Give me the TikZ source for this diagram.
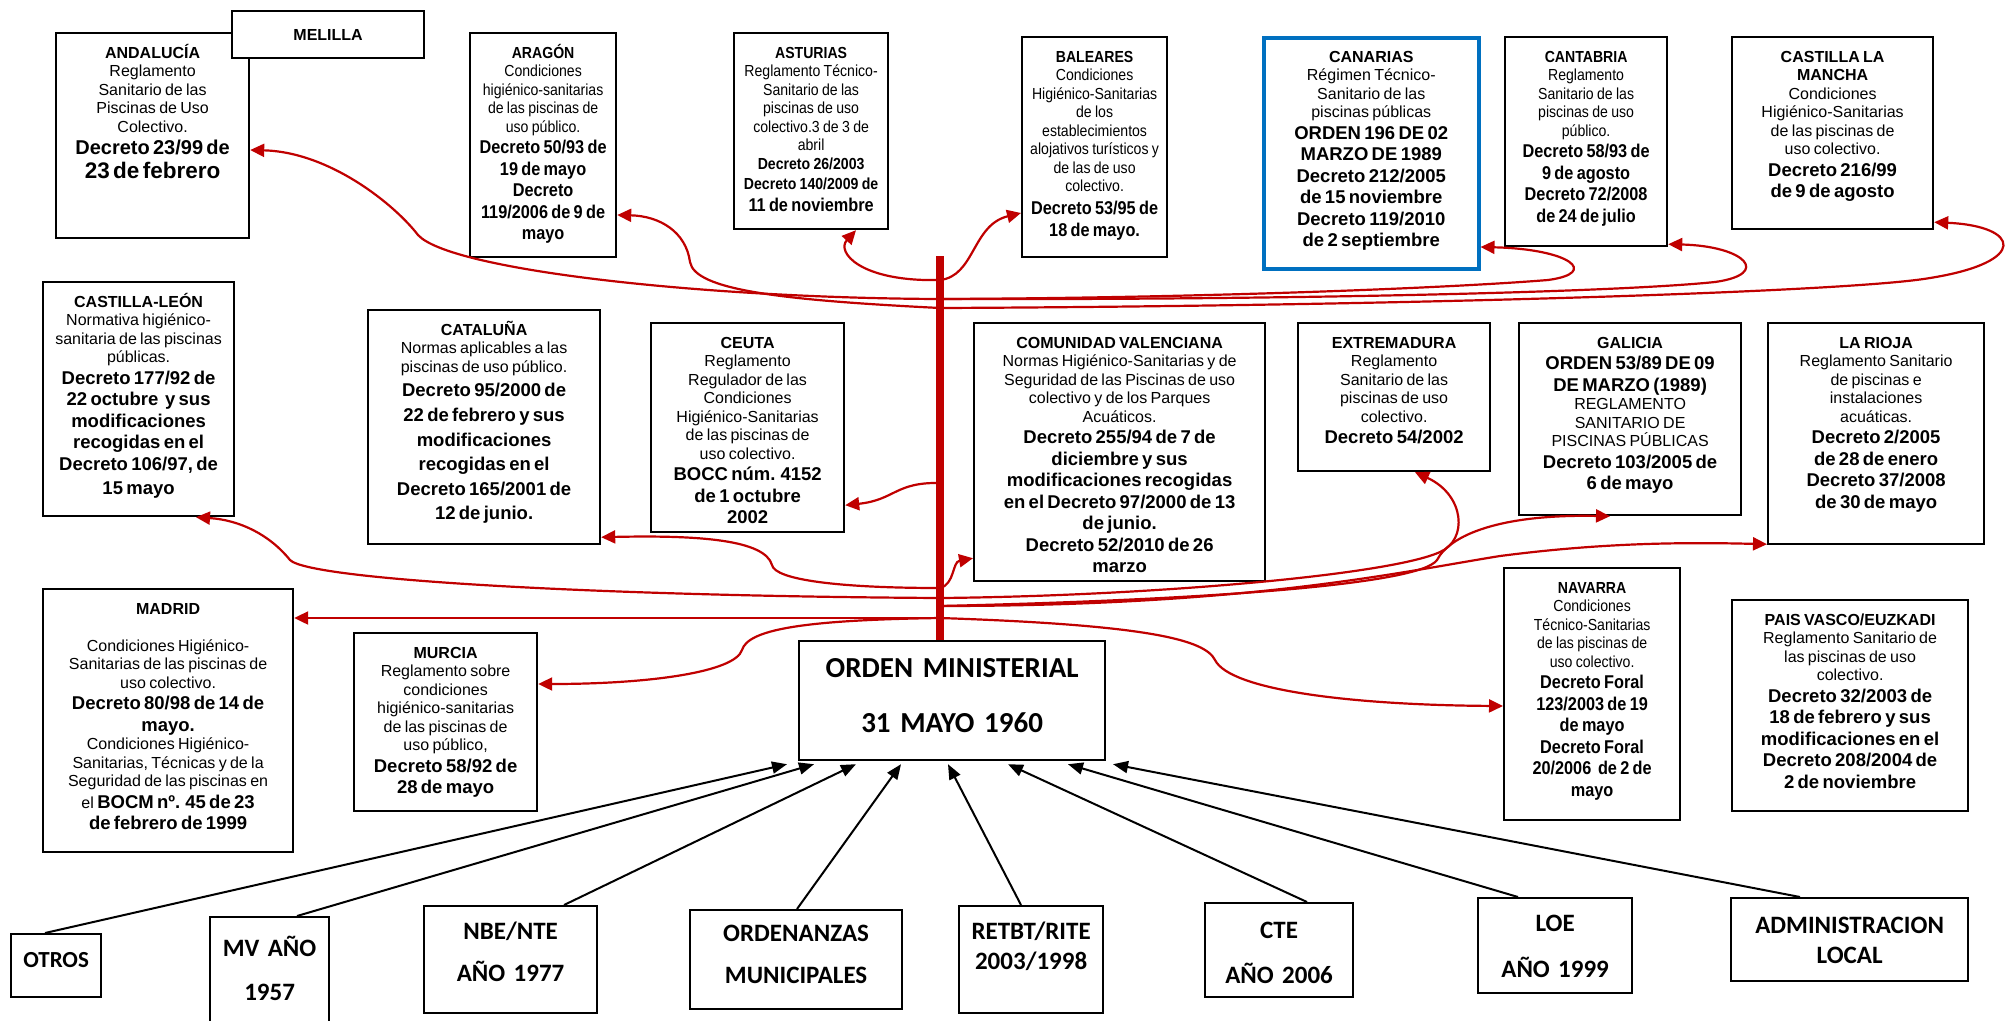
\documentclass[tikz,border=0pt]{standalone}
\usepackage{fontspec}
\setmainfont{Liberation Sans}
\newfontfamily\nrw[FakeStretch=0.88]{Liberation Sans}
\newfontfamily\calib{Carlito}
\usetikzlibrary{arrows.meta,calc}
\definecolor{conred}{HTML}{C00000}
\definecolor{canblue}{HTML}{0070C0}

% text styles used inside the boxes
\newcommand\ttlf{\fontsize{16}{18.5}\selectfont\bfseries}
\newcommand\ttl{\ttlf\rule{0pt}{15pt}}
\newcommand\rgl{\fontsize{16}{18.5}\selectfont\mdseries}
\newcommand\bld{\fontsize{18.5}{21.5}\selectfont\bfseries}
\newcommand\btm{\calib\bfseries\fontsize{25}{30}\selectfont}

\tikzset{
  box/.style={draw, line width=2.2pt, fill=white, inner sep=0pt, anchor=north west, rectangle},
  boxtext/.style={anchor=north, align=center, inner sep=0pt},
  con/.style={draw=conred, line width=2.2pt, -{Triangle[length=14pt,width=13pt]}},
  feed/.style={draw=black, line width=2pt, -{Triangle[length=15pt,width=12pt]}},
  mainbar/.style={draw=conred, line width=8pt},
}

% region box: [extra style]{name}{x,y}{width}{height}{text}
\newcommand\regbox[6][]{%
  \node[box,#1,minimum width=#4,minimum height=#5] (#2) at (#3) {};
  \node[boxtext,text width=#4] at ($(#2.north)+(0,11)$) {#6};}
% lower box: {name}{x,y}{width}{height}{top pad}{text}
\newcommand\basebox[6]{%
  \node[box,minimum width=#3,minimum height=#4] (#1) at (#2) {};
  \node[boxtext,text width=#3,font=\btm] at ($(#1.north)+(0,#5)$) {\rule{0pt}{22pt}#6};}

\begin{document}
\begin{tikzpicture}[x=1pt,y=-1pt]
\useasboundingbox (0,0) rectangle (2009,1020);
\fill[white] (0,0) rectangle (2009,1020);

% ---------- top row ----------
\regbox{anda}{55,32}{193}{205}{{\ttl ANDALUCÍA\par}{\rgl Reglamento\\Sanitario de las\\Piscinas de Uso\\Colectivo.\par}{\fontsize{20}{22}\selectfont\bfseries Decreto 23/99 de\par}{\fontsize{22.5}{24}\selectfont\bfseries 23 de febrero\par}}
\node[box,minimum width=192,minimum height=47,font=\ttlf] (mel) at (231,10) {MELILLA};
\regbox{ara}{469,32}{146}{224}{\nrw{\ttl ARAGÓN\par}{\rgl Condiciones\\higiénico-sanitarias\\de las piscinas de\\uso público.\par}{\bld Decreto 50/93 de\\19 de mayo\\Decreto\\119/2006 de 9 de\\mayo\par}}
\regbox{ast}{733,32}{154}{196}{\nrw{\ttl ASTURIAS\par}{\rgl Reglamento Técnico-\\Sanitario de las\\piscinas de uso\\colectivo.3 de 3 de\\abril\par}{\fontsize{16}{19}\selectfont\bfseries Decreto 26/2003\par}{\fontsize{16}{20}\selectfont\bfseries Decreto 140/2009 de\par}{\bld 11 de noviembre\par}}
\regbox{bal}{1021,36}{145}{220}{\nrw{\ttl BALEARES\par}{\rgl Condiciones\\Higiénico-Sanitarias\\de los\\establecimientos\\alojativos turísticos y\\de las de uso\\colectivo.\par}{\fontsize{18.5}{22.5}\selectfont\bfseries Decreto 53/95 de\\18 de mayo.\par}}
\regbox[draw=canblue,line width=3.5pt]{can}{1262,36}{215}{231}{{\ttl CANARIAS\par}{\rgl Régimen Técnico-\\Sanitario de las\\piscinas públicas\par}{\bld ORDEN 196 DE 02\\MARZO DE 1989\\Decreto 212/2005\\de 15 noviembre\\Decreto 119/2010\\de 2 septiembre\par}}
\regbox{cnt}{1504,36}{162}{209}{\nrw{\ttl CANTABRIA\par}{\rgl Reglamento\\Sanitario de las\\piscinas de uso\\público.\par}{\bld Decreto 58/93 de\\9 de agosto\\Decreto 72/2008\\de 24 de julio\par}}
\regbox{clm}{1731,36}{201}{192}{{\ttl CASTILLA LA\\MANCHA\par}{\rgl Condiciones\\Higiénico-Sanitarias\\de las piscinas de\\uso colectivo.\par}{\bld Decreto 216/99\\de 9 de agosto\par}}

% ---------- middle row ----------
\regbox{cyl}{42,281}{191}{234}{{\ttl CASTILLA-LEÓN\par}{\rgl Normativa higiénico-\\sanitaria de las piscinas\\públicas.\par}{\bld Decreto 177/92 de\\22 octubre\ \ y sus\\modificaciones\\recogidas en el\\Decreto 106/97, de\\[3pt]15 mayo\par}}
\regbox{cat}{367,309}{232}{234}{{\ttl CATALUÑA\par}{\rgl Normas aplicables a las\\piscinas de uso público.\par}{\fontsize{18.5}{24.6}\selectfont\bfseries Decreto 95/2000 de\\22 de febrero y sus\\modificaciones\\recogidas en el\\Decreto 165/2001 de\\12 de junio.\par}}
\regbox{ceu}{650,322}{193}{209}{{\ttl CEUTA\par}{\rgl Reglamento\\Regulador de las\\Condiciones\\Higiénico-Sanitarias\\de las piscinas de\\uso colectivo.\par}{\bld BOCC núm. 4152\\de 1 octubre\\2002\par}}
\regbox{val}{973,322}{291}{258}{{\ttl COMUNIDAD VALENCIANA\par}{\rgl Normas Higiénico-Sanitarias y de\\Seguridad de las Piscinas de uso\\colectivo y de los Parques\\Acuáticos.\par}{\bld Decreto 255/94 de 7 de\\diciembre y sus\\modificaciones recogidas\\en el Decreto 97/2000 de 13\\de junio.\\Decreto 52/2010 de 26\\marzo\par}}
\regbox{ext}{1297,322}{192}{148}{{\ttl EXTREMADURA\par}{\rgl Reglamento\\Sanitario de las\\piscinas de uso\\colectivo.\par}{\bld Decreto 54/2002\par}}
\regbox{gal}{1518,322}{222}{192}{{\ttl GALICIA\par}{\bld ORDEN 53/89 DE 09\\DE MARZO (1989)\par}{\rgl REGLAMENTO\\SANITARIO DE\\PISCINAS PÚBLICAS\par}{\bld Decreto 103/2005 de\\6 de mayo\par}}
\regbox{rio}{1767,322}{216}{221}{{\ttl LA RIOJA\par}{\rgl Reglamento Sanitario\\de piscinas e\\instalaciones\\acuáticas.\par}{\bld Decreto 2/2005\\de 28 de enero\\Decreto 37/2008\\de 30 de mayo\par}}

% ---------- lower row ----------
\regbox{mad}{42,588}{250}{263}{{\ttl MADRID\par}{\rgl\mbox{}\\Condiciones Higiénico-\\Sanitarias de las piscinas de\\uso colectivo.\par}{\bld Decreto 80/98 de 14 de\\mayo.\par}{\rgl Condiciones Higiénico-\\Sanitarias, Técnicas y de la\\Seguridad de las piscinas en\par}{\bld {\rgl el }BOCM nº. 45 de 23\\de febrero de 1999\par}}
\regbox{mur}{353,632}{183}{178}{{\ttl MURCIA\par}{\rgl Reglamento sobre\\condiciones\\higiénico-sanitarias\\de las piscinas de\\uso público,\par}{\bld Decreto 58/92 de\\28 de mayo\par}}
\regbox{nav}{1503,567}{176}{252}{\nrw{\ttl NAVARRA\par}{\rgl Condiciones\\Técnico-Sanitarias\\de las piscinas de\\uso colectivo.\par}{\bld Decreto Foral\\123/2003 de 19\\de mayo\\Decreto Foral\\20/2006\ \ de 2 de\\mayo\par}}
\regbox{pv}{1731,599}{236}{211}{{\ttl PAIS VASCO/EUZKADI\par}{\rgl Reglamento Sanitario de\\las piscinas de uso\\colectivo.\par}{\bld Decreto 32/2003 de\\18 de febrero y sus\\modificaciones en el\\Decreto 208/2004 de\\2 de noviembre\par}}

% central order
\node[box,minimum width=306,minimum height=119] (orden) at (798,640) {};
\node[boxtext,text width=306,font=\calib\bfseries\fontsize{29}{35}\selectfont] at ($(orden.north)+(0,15)$) {\rule{0pt}{22pt}ORDEN MINISTERIAL\\[20pt]31 MAYO 1960};

% ---------- bottom row ----------
\basebox{otros}{10,933}{90}{63}{12}{{\fontsize{23}{27}\selectfont OTROS}}
\basebox{mv}{209,916}{119}{115}{18}{MV AÑO\\[14pt]1957}
\basebox{nbe}{423,905}{173}{107}{12}{NBE/NTE\\[12pt]AÑO 1977}
\basebox{ord}{689,909}{212}{99}{10}{ORDENANZAS\\[12pt]MUNICIPALES}
\basebox{ret}{958,905}{144}{107}{12}{RETBT/RITE\\2003/1998}
\basebox{cte}{1204,902}{148}{94}{14}{CTE\\[15pt]AÑO 2006}
\basebox{loe}{1477,897}{154}{95}{12}{LOE\\[16pt]AÑO 1999}
\basebox{adm}{1730,897}{237}{83}{14}{ADMINISTRACION\\LOCAL}

% ---------- vertical bar and its branch points ----------
\coordinate (bartop) at (940,256);
\draw[mainbar] (bartop) -- (bartop |- orden.north);
\coordinate (bA) at (940,280);
\coordinate (bB) at (940,299);
\coordinate (bC) at (940,308);
\coordinate (bD) at (940,483);
\coordinate (bE) at (940,588);
\coordinate (bF) at (940,598);
\coordinate (bG) at (940,606);
\coordinate (bH) at (940,618);

% branches to the top row
\draw[con] (bA) .. controls (860,282) and (836,252) .. ([xshift=123pt]ast.south west);
\draw[con] (bA) .. controls (975,276) and (972,225) .. ([yshift=-177pt]bal.north west);
\draw[con] (bB) .. controls (700,298) and (450,270) .. (418,235) .. controls (395,205) and (330,152) .. ([yshift=-118pt]anda.north east);
\draw[con] (bC) .. controls (780,300) and (695,290) .. (690,262) .. controls (686,232) and (660,216) .. ([yshift=-183pt]ara.north east);
\draw[con] (bB) .. controls (1200,298) and (1450,288) .. (1548,280) .. controls (1600,273) and (1570,249) .. ([yshift=-211pt]can.north east);
\draw[con] (bB) .. controls (1300,300) and (1620,292) .. (1715,282) .. controls (1772,274) and (1745,246) .. ([yshift=3pt]cnt.south east);
\draw[con] (bC) .. controls (1400,306) and (1850,292) .. (1930,278) .. controls (2030,262) and (2020,226) .. ([yshift=8pt]clm.south east);

% branches to the middle row
\draw[con] (bD) .. controls (895,482) and (895,500) .. ([yshift=28pt]ceu.south east);
\draw[con] (bE) .. controls (840,588) and (775,580) .. (772,565) .. controls (765,540) and (700,535) .. ([yshift=8pt]cat.south east);
\draw[con] (bE) .. controls (955,584) and (952,562) .. ([yshift=24pt]val.south west);
\draw[con] (bF) .. controls (600,596) and (310,580) .. (290,560) .. controls (270,535) and (240,520) .. ([xshift=154pt]cyl.south west);
\draw[con] (bF) .. controls (1150,596) and (1390,575) .. (1440,552) .. controls (1468,540) and (1465,495) .. ([xshift=118pt]ext.south west);
\draw[con] (bG) .. controls (1200,600) and (1420,585) .. (1437,560) .. controls (1450,535) and (1500,514) .. ([xshift=92pt]gal.south west);
\draw[con] (bG) .. controls (1250,606) and (1400,572) .. (1500,556) .. controls (1600,543) and (1680,542) .. ([yshift=1pt]rio.south west);

% branches to the lower row
\draw[con] (bH) -- ([yshift=-30pt]mad.north east);
\draw[con] (bH) .. controls (800,620) and (748,630) .. (742,650) .. controls (735,672) and (650,684) .. ([yshift=-52pt]mur.north east);
\draw[con] (bH) .. controls (1150,625) and (1205,640) .. (1215,660) .. controls (1230,690) and (1350,705) .. ([yshift=-139pt]nav.north west);

% general regulations feeding the order
\draw[feed] ([xshift=35pt]otros.north west) -- ([xshift=-11pt,yshift=-3pt]orden.south west);
\draw[feed] ([xshift=88pt]mv.north west) -- ([xshift=16pt,yshift=-3pt]orden.south west);
\draw[feed] ([xshift=141pt]nbe.north west) -- ([xshift=58pt,yshift=-3pt]orden.south west);
\draw[feed] ([xshift=108pt]ord.north west) -- ([xshift=103pt,yshift=-3pt]orden.south west);
\draw[feed] ([xshift=63pt]ret.north west) -- ([xshift=150pt,yshift=-3pt]orden.south west);
\draw[feed] ([xshift=103pt]cte.north west) -- ([xshift=210pt,yshift=-3pt]orden.south west);
\draw[feed] ([xshift=41pt]loe.north west) -- ([xshift=270pt,yshift=-3pt]orden.south west);
\draw[feed] ([xshift=70pt]adm.north west) -- ([xshift=315pt,yshift=-3pt]orden.south west);
\end{tikzpicture}
\end{document}
